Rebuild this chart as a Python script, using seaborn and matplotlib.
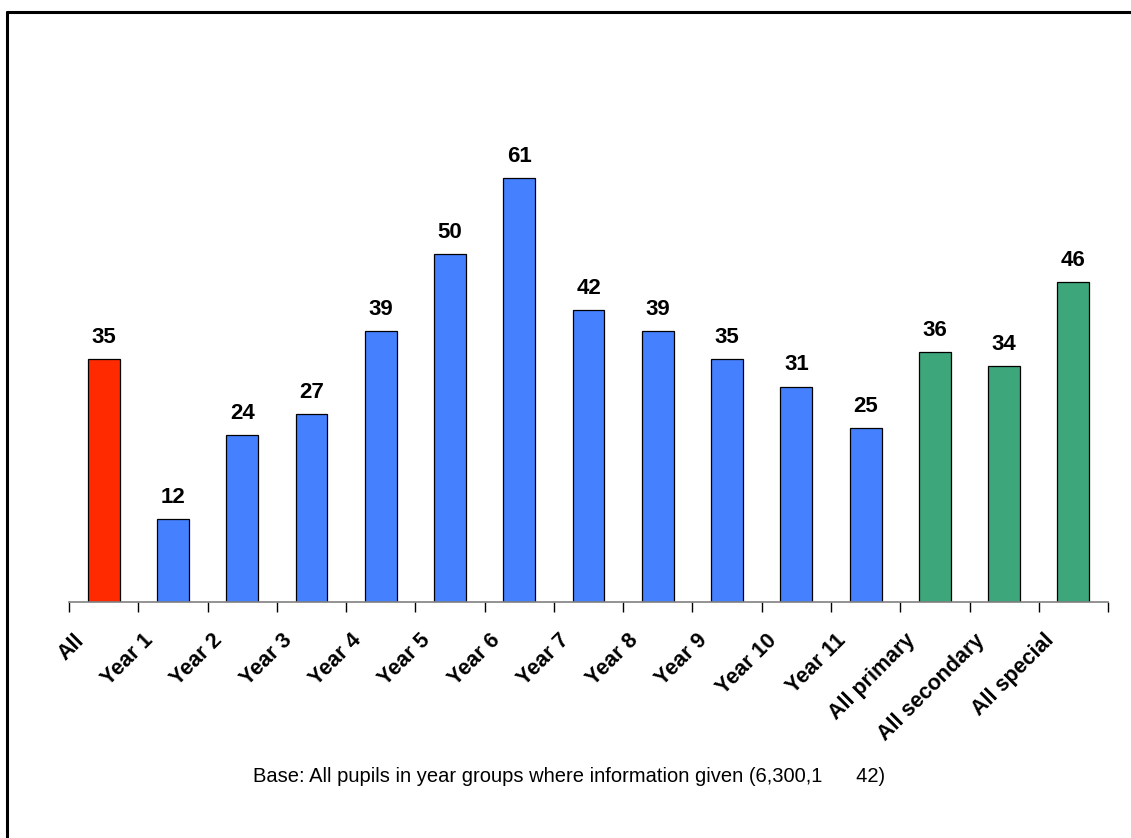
import matplotlib
matplotlib.use("Agg")
import matplotlib.pyplot as plt
import matplotlib.transforms as mtransforms
from matplotlib.lines import Line2D
import seaborn as sns
import pandas as pd
import numpy as np

# data
categories = ["All", "Year 1", "Year 2", "Year 3", "Year 4", "Year 5", "Year 6",
              "Year 7", "Year 8", "Year 9", "Year 10", "Year 11",
              "All primary", "All secondary", "All special"]
values = [35, 12, 24, 27, 39, 50, 61, 42, 39, 35, 31, 25, 36, 34, 46]
groups = ["all"] + ["year"] * 11 + ["summary"] * 3
group_colors = {"all": "#FF2A00", "year": "#4581FF", "summary": "#3DA67B"}
footnote = "Base: All pupils in year groups where information given (6,300,1      42)"

df = pd.DataFrame({"category": categories, "value": values, "group": groups})

sns.set_style("white")
plt.rcParams["font.family"] = ["Liberation Sans", "DejaVu Sans"]
plt.rcParams["text.color"] = "black"
plt.rcParams["xtick.color"] = "black"

fig = plt.figure(figsize=(11.31, 8.38), dpi=100)
ax = fig.add_axes([0.061, 0.2816, 0.9187, 0.5806])

colors = [group_colors[g] for g in groups]
sns.barplot(data=df, x="category", y="value", hue="category", palette=colors,
            legend=False, width=0.46, edgecolor="black", linewidth=0.9,
            saturation=1, ax=ax)

ax.set_ylim(0, 70)
ax.set_xlim(-0.5, len(categories) - 0.5)
ax.set_xlabel("")
ax.set_ylabel("")
ax.set_yticks([])
for side in ["top", "right", "left"]:
    ax.spines[side].set_visible(False)
ax.spines["bottom"].set_color("#808080")
ax.spines["bottom"].set_linewidth(1.2)

# value labels
for cont in ax.containers:
    ax.bar_label(cont, fmt="%d", padding=8, fontsize=16, fontweight="bold",
                 color="black")

# category labels at centres, tick marks at boundaries
ax.set_xticks(np.arange(len(categories)))
ax.set_xticklabels(categories, rotation=45, ha="right", va="top",
                   rotation_mode="anchor", fontsize=15.5, fontweight="bold")
ax.tick_params(axis="x", which="major", length=0, pad=20, bottom=True,
               labelcolor="black")
ax.set_xticks(np.arange(len(categories) + 1) - 0.5, minor=True)
ax.tick_params(axis="x", which="minor", length=7, width=1, color="black",
               direction="out", bottom=True)
shift = mtransforms.ScaledTranslation(-30 / 100, 0, fig.dpi_scale_trans)
for lab in ax.get_xticklabels():
    lab.set_transform(lab.get_transform() + shift)

fig.text(0.503, 0.073, footnote, ha="center", va="center", fontsize=14.5)

# frame (only top and left edges visible in the reference)
fig.add_artist(Line2D([0.0062, 0.0062], [0.0, 0.9857], transform=fig.transFigure,
                      color="black", linewidth=2.2))
fig.add_artist(Line2D([0.0062, 1.0], [0.9857, 0.9857], transform=fig.transFigure,
                      color="black", linewidth=2.2))

fig.savefig("out.png", dpi=100)
